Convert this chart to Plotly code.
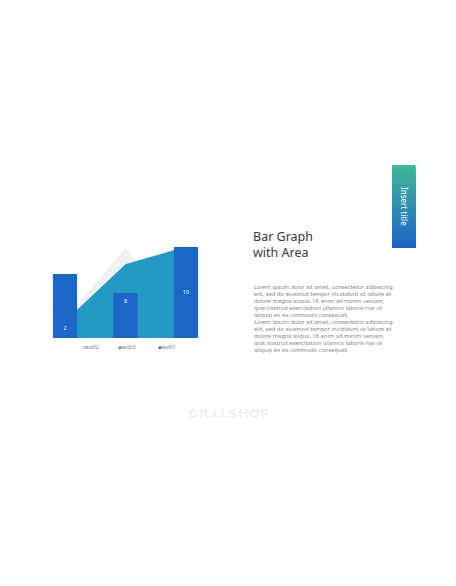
import plotly.graph_objects as go

# ---- data ----
categories = ["text02", "text03", "text01"]
bar_values = [14.2, 10.0, 20.2]          # bar heights (series text01)
bar_labels = [2, 8, 10]                  # data labels shown inside bars
area_back = [4.2, 20.0, 4.3]             # light grey area (series text02)
area_front = [3.7, 16.4, 20.3]           # teal area (series text03)
legend_names = ["text02", "text03", "text01"]

title_lines = ["Bar Graph", "with Area"]
side_title = "Insert title"
body_lines = [
    "Lorem ipsum dolor sit amet, consectetur adipiscing",
    "elit, sed do eiusmod tempor incididunt ut labore et",
    "dolore magna aliqua. Ut enim ad minim veniam,",
    "quis nostrud exercitation ullamco laboris nisi ut",
    "aliquip ex ea commodo consequat.",
]
watermark = "GILLLSHOP"

# ---- style ----
OFF = 8                      # page body margin of the browser
W, H = 456 - OFF, 586 - OFF
BLUE = "#1b66c6"
TEAL = "#2499c3"
GREY = "#f0f0f0"


def px(x):
    return (x - OFF) / W


def py(y):
    return 1 - (y - OFF) / H


xdom = [px(34.75), px(216.25)]
ydom = [py(338), py(225.5)]
yr = [0, 25]

fig = go.Figure()

fig.add_trace(go.Scatter(x=categories, y=area_back, mode="none", fill="tozeroy",
                         fillcolor=GREY, name=legend_names[0], showlegend=False,
                         xaxis="x", yaxis="y"))
fig.add_trace(go.Scatter(x=categories, y=area_front, mode="none", fill="tozeroy",
                         fillcolor=TEAL, name=legend_names[1], showlegend=False,
                         xaxis="x", yaxis="y"))
fig.add_trace(go.Bar(x=categories, y=bar_values, marker=dict(color=BLUE, line=dict(width=0)),
                     width=0.4, name=legend_names[2], showlegend=False,
                     xaxis="x2", yaxis="y2"))
fig.add_trace(go.Scatter(x=categories, y=bar_labels, mode="text",
                         text=[str(v) for v in bar_labels],
                         textfont=dict(color="white", size=5.5, family="Noto Sans"),
                         showlegend=False, hoverinfo="skip", xaxis="x2", yaxis="y2"))

ax_common = dict(showgrid=False, zeroline=False, showticklabels=False, showline=False,
                 ticks="", fixedrange=True)
fig.update_layout(
    width=W, height=H,
    margin=dict(l=0, r=0, t=0, b=0),
    paper_bgcolor="white", plot_bgcolor="rgba(0,0,0,0)",
    showlegend=False,
    xaxis=dict(domain=xdom, type="category", range=[-0.5, 2.5], **ax_common),
    yaxis=dict(domain=ydom, range=yr, **ax_common),
    xaxis2=dict(domain=xdom, type="category", range=[-0.5, 2.5], overlaying="x",
                anchor="y2", **ax_common),
    yaxis2=dict(domain=ydom, range=yr, overlaying="y", anchor="x2", **ax_common),
)

annotations = []
# legend (drawn as text)
legend_colors = ["#e6e6e6", TEAL, BLUE]
legend_x = [80, 117, 157]
for name, col, lx in zip(legend_names, legend_colors, legend_x):
    annotations.append(dict(
        x=px(lx), y=py(347), xref="paper", yref="paper", xanchor="left", yanchor="middle",
        text=f"<span style='color:{col}'>■</span>{name}", showarrow=False, borderpad=0,
        font=dict(size=5, color="#7a7a7a", family="Noto Sans")))

# title
for line, yy in zip(title_lines, [236.5, 252]):
    annotations.append(dict(
        x=px(252), y=py(yy), xref="paper", yref="paper", xanchor="left", yanchor="middle",
        text=line, showarrow=False, borderpad=0,
        font=dict(size=12.5, color="#3a3a3a", family="Noto Sans")))

# body paragraphs (one block each)
para_centers = [301.3, 336.8]
for yc in para_centers:
    annotations.append(dict(
        x=px(253), y=py(yc), xref="paper", yref="paper",
        xanchor="left", yanchor="middle", align="left",
        text="<br>".join(body_lines), showarrow=False, borderpad=0,
        font=dict(size=5.4, color="#858585", family="DejaVu Sans")))

# side title on gradient bar
annotations.append(dict(
    x=px(404), y=py(206), xref="paper", yref="paper", xanchor="center", yanchor="middle",
    text=side_title, textangle=90, showarrow=False, borderpad=0,
    font=dict(size=8, color="white", family="Noto Sans")))

# watermark
annotations.append(dict(
    x=px(228), y=py(413), xref="paper", yref="paper", xanchor="center", yanchor="middle",
    text=f"<b>{watermark}</b>", showarrow=False, borderpad=0,
    font=dict(size=13, color="#f2f2f2", family="DejaVu Sans")))

fig.update_layout(annotations=annotations)

# gradient rectangle (decoration) built from overlapping strips
top_c = (0x41, 0xb6, 0x98)
bot_c = (0x1e, 0x64, 0xc8)
x0, x1, y0, y1 = 392, 415.5, 165, 247.5
n = 60
shapes = []
for i in range(n):
    t = i / (n - 1)
    c = tuple(int(round(a + (b - a) * t)) for a, b in zip(top_c, bot_c))
    ya = y0 + (y1 - y0) * i / n
    shapes.append(dict(type="rect", xref="paper", yref="paper",
                       x0=px(x0), x1=px(x1), y0=py(ya), y1=py(y1),
                       fillcolor=f"rgb{c}", line=dict(width=0), layer="below"))
fig.update_layout(shapes=shapes)

fig.write_html("out.html")
